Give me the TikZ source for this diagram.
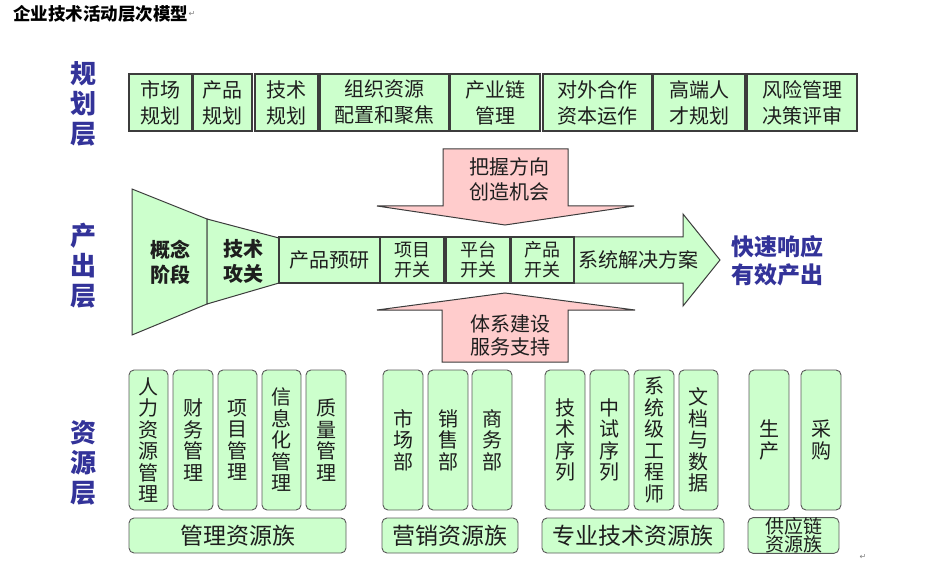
\documentclass[tikz,border=0pt]{standalone}
\usepackage{fontspec}
\setmainfont{Noto Sans CJK SC}
\newfontfamily\dejavu{DejaVu Sans}
\definecolor{lgreen}{RGB}{204,255,204}
\definecolor{lpink}{RGB}{255,204,204}
\definecolor{bline}{RGB}{60,60,60}
\definecolor{rline}{RGB}{90,90,90}
\definecolor{txt}{RGB}{30,30,30}
\definecolor{lblue}{RGB}{51,51,153}
\begin{document}
\begin{tikzpicture}[x=1pt,y=-1pt,
  gbox/.style={draw=bline, fill=lgreen, line width=1.2pt, inner sep=0pt, align=center, text=txt, font=\fontsize{20}{26}\selectfont},
  sbox/.style={gbox, font=\fontsize{18}{20}\selectfont},
  rbox/.style={draw=rline, fill=lgreen, line width=0.9pt, rounded corners=5pt, inner sep=0pt, align=center, text=txt, minimum height=140, font=\fontsize{20}{21.5}\selectfont},
  fbox/.style={draw=rline, fill=lgreen, line width=0.9pt, rounded corners=5pt, inner sep=0pt, align=center, text=txt, minimum height=35, font=\fontsize{23}{26}\selectfont},
  layer/.style={text=lblue, font=\fontsize{26}{30}\bfseries\selectfont, align=center, inner sep=0pt},
  shapeline/.style={draw=bline, line width=1pt},
  ptext/.style={text=txt, align=center, inner sep=0pt},
  pmark/.style={text=gray, font=\dejavu\fontsize{8}{8}\selectfont, inner sep=0pt}
]
\useasboundingbox (0,0) rectangle (948,572);

% title
\node[anchor=west, inner sep=0pt, font=\fontsize{17.5}{20}\bfseries\selectfont, text=black] (title) at (13,14) {企业技术活动层次模型};
\node[pmark, anchor=west] (pm1) at (title.east) {↵};

% layer labels
\node[layer] (L1) at (83,104) {规\\划\\层};
\node[layer] (L2) at (83,266) {产\\出\\层};
\node[layer] (L3) at (83,463) {资\\源\\层};

% planning row
\node[gbox, minimum width=63, minimum height=57] (p1) at (160.5,102.5) {市场\\规划};
\node[gbox, minimum width=59, minimum height=57] (p2) at (222.5,102.5) {产品\\规划};
\node[gbox, minimum width=63, minimum height=57] (p3) at (286.5,102.5) {技术\\规划};
\node[gbox, minimum width=129, minimum height=57] (p4) at (384.5,102.5) {组织资源\\配置和聚焦};
\node[gbox, minimum width=90, minimum height=57] (p5) at (495,102.5) {产业链\\管理};
\node[gbox, minimum width=109, minimum height=57] (p6) at (597.5,102.5) {对外合作\\资本运作};
\node[gbox, minimum width=92, minimum height=57] (p7) at (699,102.5) {高端人\\才规划};
\node[gbox, minimum width=110, minimum height=57] (p8) at (802,102.5) {风险管理\\决策评审};

% pink arrows
\fill[lpink] (443,149) -- (568,149) -- (568,206) -- (634,206) -- (505,225) -- (377,206) -- (443,206) -- cycle;
\draw[shapeline] (443,206) -- (443,149) -- (568,149) -- (568,206) -- (634,206) -- (505,225) -- (377,206) -- cycle;
\node[ptext, font=\fontsize{20}{25}\selectfont] (down) at (509,179) {把握方向\\创造机会};
\fill[lpink] (442,362) -- (568,362) -- (568,310) -- (635,310) -- (505,293) -- (377,310) -- (442,310) -- cycle;
\draw[shapeline] (442,310) -- (442,362) -- (568,362) -- (568,310) -- (635,310) -- (505,293) -- (377,310) -- cycle;
\node[ptext, font=\fontsize{20}{23}\selectfont] (up) at (510,335) {体系建设\\服务支持};

% funnel
\draw[shapeline, fill=lgreen] (132,189) -- (207,219) -- (207,304) -- (132,335) -- cycle;
\draw[shapeline, fill=lgreen] (207,219) -- (279,238) -- (279,283) -- (207,304) -- cycle;
\node[ptext, font=\fontsize{20}{25}\bfseries\selectfont] (f1) at (170,262) {概念\\阶段};
\node[ptext, font=\fontsize{20}{25}\bfseries\selectfont] (f2) at (243,261) {技术\\攻关};

% big arrow
\draw[shapeline, fill=lgreen] (574,237) -- (683,237) -- (683,214) -- (720,260) -- (683,306) -- (683,283) -- (574,283) -- cycle;
\node[ptext, font=\fontsize{20}{24}\selectfont] (sol) at (638,260) {系统解决方案};

% production boxes
\node[gbox, minimum width=101, minimum height=46] (q1) at (329.5,260) {产品预研};
\node[sbox, minimum width=64, minimum height=46] (q2) at (412,260) {项目\\开关};
\node[sbox, minimum width=64, minimum height=46] (q3) at (478,260) {平台\\开关};
\node[sbox, minimum width=63, minimum height=46] (q4) at (542.5,260) {产品\\开关};

\node[text=lblue, align=center, inner sep=0pt, font=\fontsize{23}{28}\bfseries\selectfont] (out) at (777,261) {快速响应\\有效产出};

% resource boxes
\node[rbox, minimum width=39] (r1) at (148.5,440) {人\\力\\资\\源\\管\\理};
\node[rbox, minimum width=40] (r2) at (193,440) {财\\务\\管\\理};
\node[rbox, minimum width=39] (r3) at (237.5,440) {项\\目\\管\\理};
\node[rbox, minimum width=39] (r4) at (281.5,440) {信\\息\\化\\管\\理};
\node[rbox, minimum width=40] (r5) at (326,440) {质\\量\\管\\理};
\node[rbox, minimum width=40] (r6) at (403,440) {市\\场\\部};
\node[rbox, minimum width=40] (r7) at (448,440) {销\\售\\部};
\node[rbox, minimum width=40] (r8) at (492,440) {商\\务\\部};
\node[rbox, minimum width=40] (r9) at (565,440) {技\\术\\序\\列};
\node[rbox, minimum width=39] (r10) at (609.5,440) {中\\试\\序\\列};
\node[rbox, minimum width=40] (r11) at (654,440) {系\\统\\级\\工\\程\\师};
\node[rbox, minimum width=39] (r12) at (698.5,440) {文\\档\\与\\数\\据};
\node[rbox, minimum width=40] (r13) at (769,440) {生\\产};
\node[rbox, minimum width=40] (r14) at (821,440) {采\\购};

% family boxes
\node[fbox, minimum width=217] (g1) at (237.5,535.5) {管理资源族};
\node[fbox, minimum width=136] (g2) at (450,535.5) {营销资源族};
\node[fbox, minimum width=182] (g3) at (633,535.5) {专业技术资源族};
\node[fbox, minimum width=91, font=\fontsize{19}{18}\selectfont] (g4) at (793.5,535.5) {供应链\\资源族};
\node[pmark] (pm2) at (863,557) {↵};
\end{tikzpicture}
\end{document}
